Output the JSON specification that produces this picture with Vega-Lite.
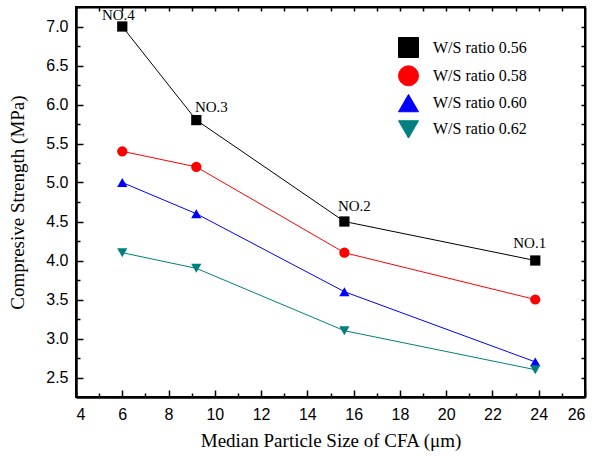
{
  "$schema": "https://vega.github.io/schema/vega-lite/v6.json",
  "width": 509,
  "height": 390,
  "autosize": "none",
  "padding": {"left": 76, "top": 7, "right": 7, "bottom": 59},
  "background": "white",
  "config": {
    "view": {"stroke": "black", "strokeWidth": 2}
  },
  "datasets": {
    "series": [
      {"s": "W/S ratio 0.56", "x": 6.0, "y": 7.0},
      {"s": "W/S ratio 0.56", "x": 9.2, "y": 5.8},
      {"s": "W/S ratio 0.56", "x": 15.6, "y": 4.5},
      {"s": "W/S ratio 0.56", "x": 23.85, "y": 4.0},
      {"s": "W/S ratio 0.58", "x": 6.0, "y": 5.4},
      {"s": "W/S ratio 0.58", "x": 9.2, "y": 5.2},
      {"s": "W/S ratio 0.58", "x": 15.6, "y": 4.1},
      {"s": "W/S ratio 0.58", "x": 23.85, "y": 3.5},
      {"s": " W/S ratio 0.60", "x": 6.0, "y": 5.0},
      {"s": " W/S ratio 0.60", "x": 9.2, "y": 4.6},
      {"s": " W/S ratio 0.60", "x": 15.6, "y": 3.6},
      {"s": " W/S ratio 0.60", "x": 23.85, "y": 2.7},
      {"s": "W/S ratio 0.62", "x": 6.0, "y": 4.1},
      {"s": "W/S ratio 0.62", "x": 9.2, "y": 3.9},
      {"s": "W/S ratio 0.62", "x": 15.6, "y": 3.1},
      {"s": "W/S ratio 0.62", "x": 23.85, "y": 2.6}
    ],
    "notes": [
      {"t": "NO.4", "lx": 5.12, "ly": 7.08},
      {"t": "NO.3", "lx": 9.14, "ly": 5.9},
      {"t": "NO.2", "lx": 15.32, "ly": 4.63},
      {"t": "NO.1", "lx": 22.9, "ly": 4.16}
    ]
  },
  "layer": [
    {
      "data": {"name": "series"},
      "mark": {"type": "line", "strokeWidth": 1},
      "encoding": {
        "x": {
          "field": "x", "type": "quantitative",
          "scale": {"domain": [4, 26], "nice": false, "zero": false},
          "axis": {
            "orient": "bottom",
            "values": [4, 6, 8, 10, 12, 14, 16, 18, 20, 22, 24, 26],
            "gridOpacity": 0,
            "domainColor": "black",
            "domainWidth": 2,
            "tickColor": "black",
            "tickWidth": 1.5,
            "tickSize": -7,
            "labelPadding": 16,
            "labelColor": "black",
            "labelFont": "Liberation Sans",
            "labelFontSize": 16,
            "title": "Median Particle Size of CFA (\u03bcm)",
            "titleFont": "Liberation Serif",
            "titleFontSize": 19,
            "titleFontWeight": "normal",
            "titleColor": "black",
            "titlePadding": 9
          }
        },
        "y": {
          "field": "y", "type": "quantitative",
          "scale": {"domain": [2.25, 7.25], "nice": false, "zero": false},
          "axis": {
            "orient": "left",
            "values": [2.5, 3.0, 3.5, 4.0, 4.5, 5.0, 5.5, 6.0, 6.5, 7.0],
            "format": ".1f",
            "gridOpacity": 0,
            "domainColor": "black",
            "domainWidth": 2,
            "tickColor": "black",
            "tickWidth": 1.5,
            "tickSize": -7,
            "labelPadding": 15,
            "labelColor": "black",
            "labelFont": "Liberation Sans",
            "labelFontSize": 16,
            "title": "Compresive Strength (MPa)",
            "titleFont": "Liberation Serif",
            "titleFontSize": 19,
            "titleFontWeight": "normal",
            "titleColor": "black",
            "titlePadding": 18
          }
        },
        "color": {
          "field": "s", "type": "nominal",
          "scale": {
            "domain": ["W/S ratio 0.56", "W/S ratio 0.58", " W/S ratio 0.60", "W/S ratio 0.62"],
            "range": ["#000000", "#ff0000", "#0000ff", "#008080"]
          },
          "legend": {
            "orient": "none",
            "legendX": 322,
            "legendY": 30,
            "title": null,
            "padding": 0,
            "symbolSize": 400,
            "symbolType": "M-2,0H2M-0.5,-0.5H0.5V0.5H-0.5Z",
            "symbolStrokeWidth": 1,
            "rowPadding": 3.3,
            "labelOffset": 14,
            "labelFont": "Liberation Serif",
            "labelFontSize": 16,
            "labelColor": "black",
            "labelLimit": 300,
            "encode": {
              "symbols": {
                "update": {
                  "shape": {"signal": "datum.value === 'W/S ratio 0.56' ? 'M-2,0H2M-0.5,-0.5H0.5V0.5H-0.5Z' : datum.value === 'W/S ratio 0.58' ? 'M-2,0H2M-0.55,0A0.55,0.55 0 1,0 0.55,0A0.55,0.55 0 1,0 -0.55,0Z' : datum.value === 'W/S ratio 0.62' ? 'M-2,0H2M0,0.6L0.65,-0.5L-0.65,-0.5Z' : 'M-2,0H2M0,-0.6L0.65,0.5L-0.65,0.5Z'"},
                  "fill": {"scale": "color", "field": "value"},
                  "stroke": {"scale": "color", "field": "value"},
                  "fillOpacity": {"value": 1},
                  "strokeOpacity": {"value": 1},
                  "strokeWidth": {"value": 1}
                }
              }
            }
          }
        }
      }
    },
    {
      "data": {"name": "series"},
      "mark": {"type": "point", "filled": true, "opacity": 1, "size": 105, "strokeWidth": 0},
      "encoding": {
        "x": {
          "field": "x", "type": "quantitative",
          "scale": {"domain": [4, 26], "nice": false, "zero": false},
          "axis": {
            "orient": "bottom",
            "values": [5, 7, 9, 11, 13, 15, 17, 19, 21, 23, 25],
            "gridOpacity": 0,
            "domainColor": "black",
            "domainWidth": 2,
            "tickColor": "black",
            "tickWidth": 1.5,
            "tickSize": -4,
            "labels": false,
            "title": null
          }
        },
        "y": {
          "field": "y", "type": "quantitative",
          "scale": {"domain": [2.25, 7.25], "nice": false, "zero": false},
          "axis": {
            "orient": "left",
            "values": [2.75, 3.25, 3.75, 4.25, 4.75, 5.25, 5.75, 6.25, 6.75, 7.25],
            "gridOpacity": 0,
            "domainColor": "black",
            "domainWidth": 2,
            "tickColor": "black",
            "tickWidth": 1.5,
            "tickSize": -4,
            "labels": false,
            "title": null
          }
        },
        "fill": {
          "field": "s", "type": "nominal",
          "scale": {
            "domain": ["W/S ratio 0.56", "W/S ratio 0.58", " W/S ratio 0.60", "W/S ratio 0.62"],
            "range": ["#000000", "#ff0000", "#0000ff", "#008080"]
          },
          "legend": null
        },
        "shape": {
          "field": "s", "type": "nominal",
          "scale": {
            "domain": ["W/S ratio 0.56", "W/S ratio 0.58", " W/S ratio 0.60", "W/S ratio 0.62"],
            "range": ["square", "circle", "triangle-up", "triangle-down"]
          },
          "legend": null
        }
      }
    },
    {
      "data": {"name": "notes"},
      "mark": {"type": "text", "align": "left", "baseline": "alphabetic", "font": "Liberation Serif", "fontSize": 15, "color": "black"},
      "encoding": {
        "x": {
          "field": "lx", "type": "quantitative",
          "scale": {"domain": [4, 26], "nice": false, "zero": false},
          "axis": {
            "orient": "top",
            "values": [5, 6, 7, 8, 9, 10, 11, 12, 13, 14, 15, 16, 17, 18, 19, 20, 21, 22, 23, 24, 25],
            "gridOpacity": 0,
            "domainColor": "black",
            "domainWidth": 2,
            "tickColor": "black",
            "tickWidth": 1.5,
            "tickSize": -4,
            "labels": false,
            "title": null
          }
        },
        "y": {
          "field": "ly", "type": "quantitative",
          "scale": {"domain": [2.25, 7.25], "nice": false, "zero": false},
          "axis": {
            "orient": "right",
            "values": [2.5, 2.75, 3.0, 3.25, 3.5, 3.75, 4.0, 4.25, 4.5, 4.75, 5.0, 5.25, 5.5, 5.75, 6.0, 6.25, 6.5, 6.75, 7.0],
            "gridOpacity": 0,
            "domainColor": "black",
            "domainWidth": 2,
            "tickColor": "black",
            "tickWidth": 1.5,
            "tickSize": -4,
            "labels": false,
            "title": null
          }
        },
        "text": {"field": "t"}
      }
    }
  ],
  "resolve": {"scale": {"x": "independent", "y": "independent"}}
}
